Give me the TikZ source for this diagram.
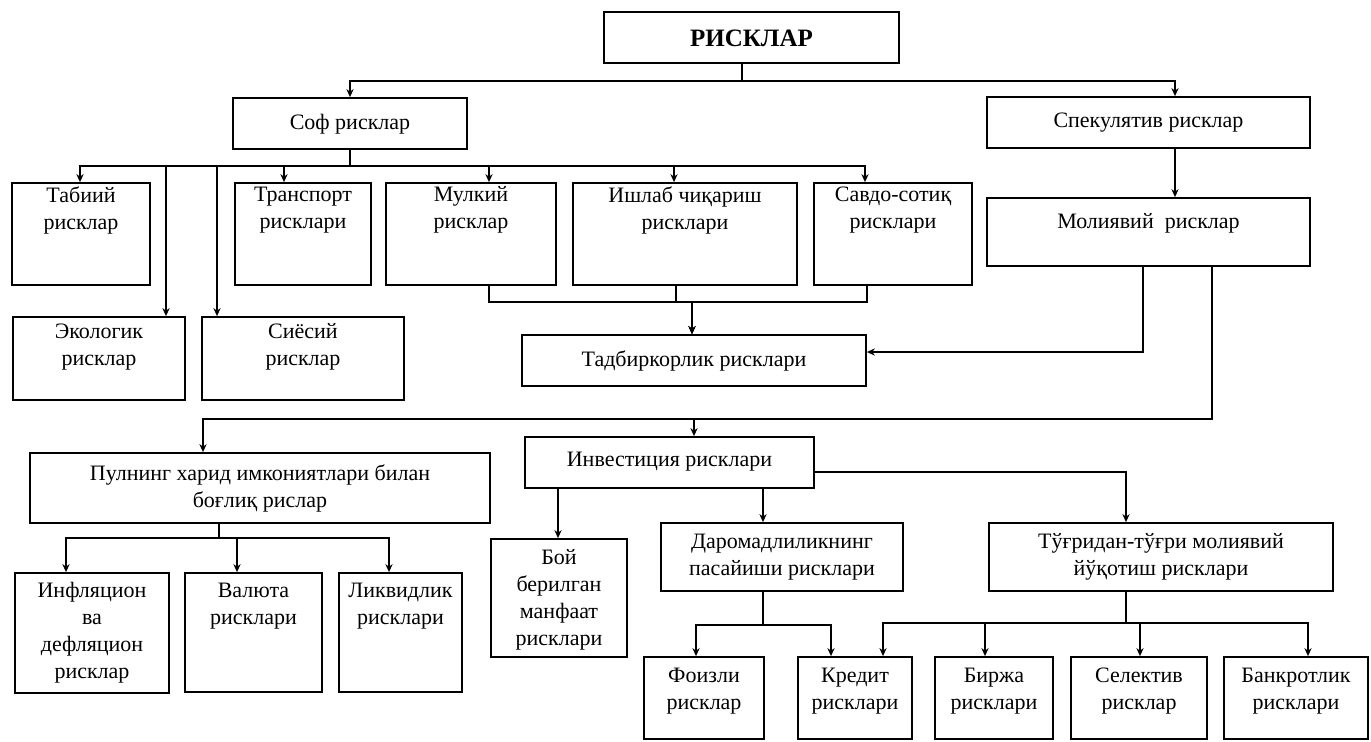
\documentclass[tikz,border=0pt]{standalone}
\usepackage{fontspec}
\setmainfont{Liberation Serif}
\usetikzlibrary{arrows.meta,fit}
\tikzset{
  frame/.style={draw, line width=0.9pt, inner sep=0pt},
  lbl/.style={align=center, inner sep=0pt, font=\fontsize{11}{13.5}\selectfont},
  conn/.style={line width=0.9pt},
  arr/.style={conn, -{Stealth[length=4pt,width=3.6pt]}},
}
% \boxat{name}{x1}{y1}{x2}{y2} : empty frame with the given corners
\newcommand\boxat[5]{\node[frame, fit={(#2,#3) (#4,#5)}] (#1) {};}
% \lab{name}{frame}{y}{text} : text centred horizontally in a frame at height y
\newcommand\lab[4]{\node[lbl] (#1) at (#2.center |- 0,#3) {#4};}
\begin{document}
\begin{tikzpicture}[x=0.5pt,y=-0.5pt]
\fill[white] (0,0) rectangle (1371,741);
\useasboundingbox (0,0) rectangle (1371,741);

% level 0 and 1
\boxat{top}{604}{12}{899}{63}
\lab{top-t}{top}{38}{\fontsize{12.5}{14}\selectfont\bfseries РИСКЛАР}
\boxat{sof}{233}{98}{467}{149}
\lab{sof-t}{sof}{124}{Соф рисклар}
\boxat{spek}{987}{97}{1310}{148}
\lab{spek-t}{spek}{123}{Спекулятив рисклар}

% branches of the pure risks
\boxat{tab}{12}{183}{150}{285}
\lab{tab-t}{tab}{210}{Табиий\\рисклар}
\boxat{trans}{235}{183}{371}{285}
\lab{trans-t}{trans}{210}{Транспорт\\рисклари}
\boxat{mulk}{386}{183}{556}{285}
\lab{mulk-t}{mulk}{210}{Мулкий\\рисклар}
\boxat{ishlab}{573}{183}{797}{285}
\lab{ishlab-t}{ishlab}{210}{Ишлаб чиқариш\\рисклари}
\boxat{savdo}{814}{183}{972}{285}
\lab{savdo-t}{savdo}{210}{Савдо-сотиқ\\рисклари}
\boxat{mol}{987}{198}{1310}{266}
\lab{mol-t}{mol}{223}{Молиявий\ \ рисклар}
\boxat{eko}{13}{317}{185}{400}
\lab{eko-t}{eko}{347}{Экологик\\рисклар}
\boxat{siyo}{202}{317}{404}{400}
\lab{siyo-t}{siyo}{347}{Сиёсий\\рисклар}
\boxat{tadb}{522}{335}{866}{386}
\lab{tadb-t}{tadb}{361}{Тадбиркорлик рисклари}

% financial risks
\boxat{pul}{30}{453}{490}{523}
\lab{pul-t}{pul}{488}{Пулнинг харид имкониятлари билан\\боғлиқ рислар}
\boxat{inv}{525}{437}{814}{488}
\lab{inv-t}{inv}{462}{Инвестиция рисклари}
\boxat{inf}{15}{573}{169}{693}
\lab{inf-t}{inf}{633}{Инфляцион\\ва\\дефляцион\\рисклар}
\boxat{val}{185}{573}{322}{692}
\lab{val-t}{val}{606}{Валюта\\рисклари}
\boxat{likv}{339}{573}{462}{692}
\lab{likv-t}{likv}{606}{Ликвидлик\\рисклари}
\boxat{boy}{491}{539}{627}{657}
\lab{boy-t}{boy}{600}{Бой\\берилган\\манфаат\\рисклари}
\boxat{dar}{661}{523}{903}{591}
\lab{dar-t}{dar}{557}{Даромадлиликнинг\\пасайиши рисклари}
\boxat{tug}{989}{523}{1333}{591}
\lab{tug-t}{tug}{557}{Тўғридан-тўғри молиявий\\йўқотиш рисклари}

% bottom row
\boxat{foiz}{644}{657}{764}{739}
\lab{foiz-t}{foiz}{691}{Фоизли\\рисклар}
\boxat{kred}{798}{657}{912}{739}
\lab{kred-t}{kred}{691}{Кредит\\рисклари}
\boxat{birj}{935}{657}{1053}{739}
\lab{birj-t}{birj}{691}{Биржа\\рисклари}
\boxat{sel}{1071}{657}{1207}{739}
\lab{sel-t}{sel}{691}{Селектив\\рисклар}
\boxat{bank}{1224}{657}{1368}{739}
\lab{bank-t}{bank}{691}{Банкротлик\\рисклари}

% connectors from the root
\draw[arr] (top.south -| 742,0) |- (sof.north |- 0,81) -- (sof.north);
\draw[arr] (top.south -| 742,0) |- (1175,81) -- (spek.north -| 1175,0);

% pure risks bus
\draw[arr] (sof.south) |- (80,166) -- (tab.north -| 80,0);
\draw[arr] (sof.south) |- (166,166) -- (eko.north -| 166,0);
\draw[arr] (sof.south) |- (217,166) -- (siyo.north -| 217,0);
\draw[arr] (sof.south) |- (284,166) -- (trans.north -| 284,0);
\draw[arr] (sof.south) |- (489,166) -- (mulk.north -| 489,0);
\draw[arr] (sof.south) |- (674,166) -- (ishlab.north -| 674,0);
\draw[arr] (sof.south) |- (865,166) -- (savdo.north -| 865,0);

% entrepreneurial risks
\draw[arr] (mulk.south -| 489,0) |- (692,302) -- (tadb.north -| 692,0);
\draw[arr] (ishlab.south -| 676,0) |- (692,302) -- (tadb.north -| 692,0);
\draw[arr] (savdo.south -| 867,0) |- (692,302) -- (tadb.north -| 692,0);

% speculative and financial risks
\draw[arr] (spek.south -| 1175,0) -- (mol.north -| 1175,0);
\draw[arr] (mol.south -| 1143,0) |- (tadb.east |- 0,352);
\draw[arr] (mol.south -| 1212,0) |- (203,419) -- (pul.north -| 203,0);
\draw[arr] (mol.south -| 1212,0) |- (694,419) -- (inv.north -| 694,0);

% purchasing power risks
\draw[arr] (pul.south -| 219,0) |- (66,538) -- (inf.north -| 66,0);
\draw[arr] (pul.south -| 219,0) |- (237,538) -- (val.north -| 237,0);
\draw[arr] (pul.south -| 219,0) |- (389,538) -- (likv.north -| 389,0);

% investment risks
\draw[arr] (inv.south -| 558,0) -- (boy.north -| 558,0);
\draw[arr] (inv.south -| 763,0) -- (dar.north -| 763,0);
\draw[arr] (inv.east |- 0,472) -| (tug.north -| 1126,0);

\draw[arr] (dar.south -| 763,0) |- (696,625) -- (foiz.north -| 696,0);
\draw[arr] (dar.south -| 763,0) |- (831,625) -- (kred.north -| 831,0);
\draw[arr] (tug.south -| 1126,0) |- (883,623) -- (kred.north -| 883,0);
\draw[arr] (tug.south -| 1126,0) |- (985,623) -- (birj.north -| 985,0);
\draw[arr] (tug.south -| 1126,0) |- (1140,623) -- (sel.north -| 1140,0);
\draw[arr] (tug.south -| 1126,0) |- (1308,623) -- (bank.north -| 1308,0);
\end{tikzpicture}
\end{document}
